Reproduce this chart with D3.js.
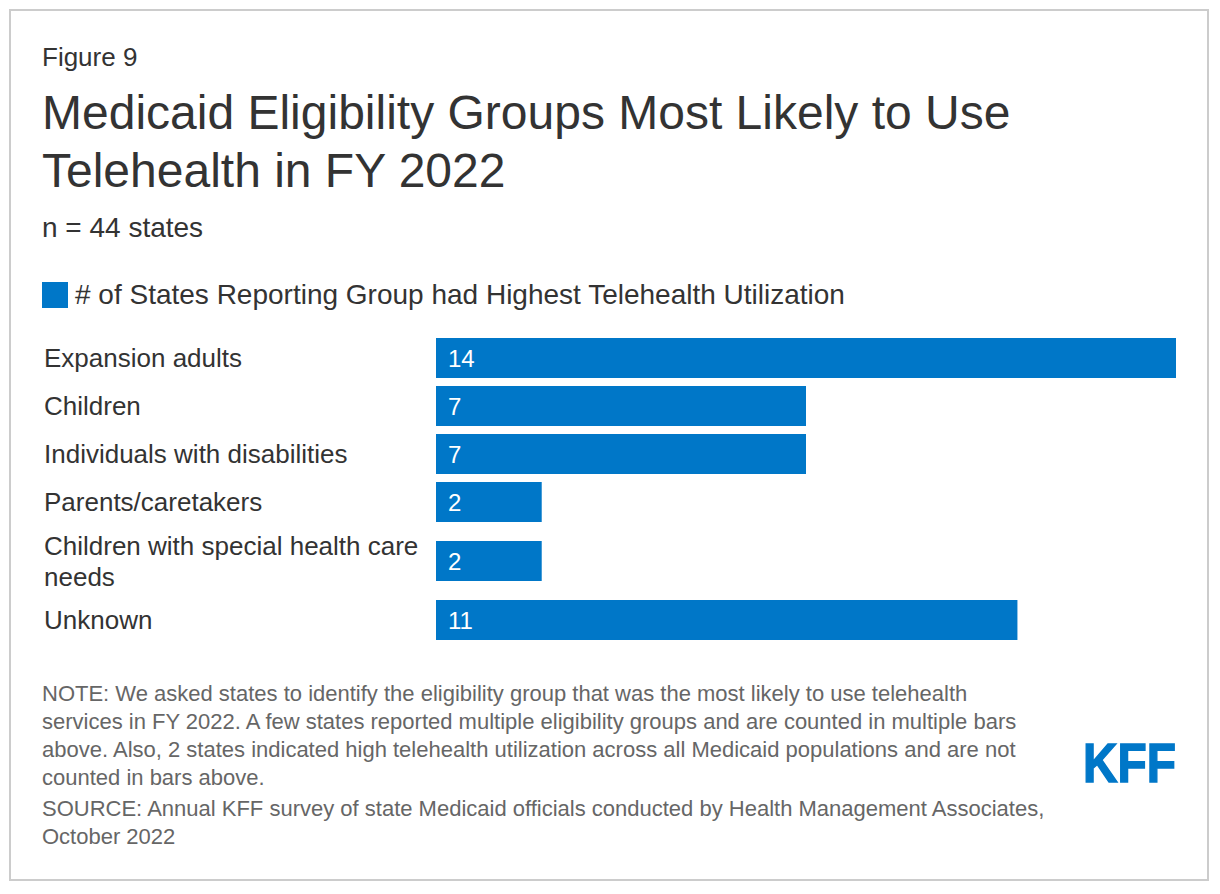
<!DOCTYPE html>
<html>
<head>
<meta charset="utf-8">
<script src="https://cdn.jsdelivr.net/npm/d3@7"></script>
<style>
  body { margin: 0; background: #fff; }
  svg text { font-family: "Liberation Sans", Arial, sans-serif; }
</style>
</head>
<body>
<div class="parentChart"></div>
<script>
// data for the chart
let categories = [
  "Expansion adults",
  "Children",
  "Individuals with disabilities",
  "Parents/caretakers",
  "Children with special health care needs",
  "Unknown",
];
let values = [14, 7, 7, 2, 2, 11];
let seriesName = "# of States Reporting Group had Highest Telehealth Utilization";

let noteLines = [
  "NOTE: We asked states to identify the eligibility group that was the most likely to use telehealth",
  "services in FY 2022. A few states reported multiple eligibility groups and are counted in multiple bars",
  "above. Also, 2 states indicated high telehealth utilization across all Medicaid populations and are not",
  "counted in bars above.",
];
let sourceLines = [
  "SOURCE: Annual KFF survey of state Medicaid officials conducted by Health Management Associates,",
  "October 2022",
];

// Exposed variables
let attrs = {
  width: 1220,
  height: 894,
  barColor: "#0077c8",
  titleColor: "#333333",
  textColor: "#333333",
  noteColor: "#666666",
  borderColor: "#cccccc",
  left: 42, // left edge of texts
  barStart: 436, // where bars begin
  barEnd: 1176, // where the largest bar ends
  barHeight: 40,
  rowPad: 8,
  lineHeight: 31,
  chartTop: 338,
  labelWidth: 385,
};

let svg = d3
  .select(".parentChart")
  .append("svg")
  .attr("width", attrs.width)
  .attr("height", attrs.height);

// frame
svg
  .append("rect")
  .attr("x", 10)
  .attr("y", 10)
  .attr("width", 1198)
  .attr("height", 870)
  .attr("fill", "#fff")
  .attr("stroke", attrs.borderColor)
  .attr("stroke-width", 2);

// headings
svg
  .append("text")
  .attr("x", attrs.left)
  .attr("y", 66)
  .attr("font-size", 26)
  .attr("fill", attrs.titleColor)
  .text("Figure 9");

let title = svg
  .append("text")
  .attr("font-size", 48)
  .attr("fill", attrs.titleColor);
title.append("tspan").attr("x", attrs.left).attr("y", 129)
  .text("Medicaid Eligibility Groups Most Likely to Use");
title.append("tspan").attr("x", attrs.left).attr("y", 187)
  .text("Telehealth in FY 2022");

svg
  .append("text")
  .attr("x", attrs.left)
  .attr("y", 237)
  .attr("font-size", 28)
  .attr("fill", attrs.titleColor)
  .text("n = 44 states");

// legend
svg
  .append("rect")
  .attr("x", attrs.left)
  .attr("y", 282)
  .attr("width", 26)
  .attr("height", 26)
  .attr("fill", attrs.barColor);
svg
  .append("text")
  .attr("x", 75)
  .attr("y", 304)
  .attr("font-size", 28)
  .attr("fill", attrs.textColor)
  .text(seriesName);

// labels first, so we know how many lines each one takes
let labelG = svg.append("g");
let labels = labelG
  .selectAll("text")
  .data(categories)
  .enter()
  .append("text")
  .attr("x", 44)
  .attr("y", 0)
  .attr("font-size", 26)
  .attr("fill", attrs.textColor)
  .text((d) => d)
  .call(wrap, attrs.labelWidth);

// row heights from label line counts
let lineCounts = [];
labels.each(function () {
  lineCounts.push(d3.select(this).selectAll("tspan").size());
});
let rowHeights = lineCounts.map(
  (n) => Math.max(attrs.barHeight, n * attrs.lineHeight) + attrs.rowPad
);
let rowCenters = [];
let acc = attrs.chartTop - attrs.rowPad / 2;
rowHeights.forEach((h) => {
  rowCenters.push(acc + h / 2);
  acc += h;
});

let x = d3
  .scaleLinear()
  .domain([0, d3.max(values)])
  .range([attrs.barStart, attrs.barEnd]);
let yCenter = d3.scaleOrdinal().domain(categories).range(rowCenters);

// position labels vertically centred on their row
labels.each(function (d, i) {
  let t = d3.select(this);
  let n = lineCounts[i];
  let firstBaseline = yCenter(d) - ((n - 1) * attrs.lineHeight) / 2 + 9;
  t.selectAll("tspan")
    .attr("y", (_, j) => firstBaseline + j * attrs.lineHeight);
});

// bars
let rows = svg
  .selectAll(".bar")
  .data(categories)
  .enter()
  .append("g")
  .attr("class", "bar");

rows
  .append("rect")
  .attr("x", x(0))
  .attr("y", (d) => yCenter(d) - attrs.barHeight / 2)
  .attr("width", (d, i) => x(values[i]) - x(0))
  .attr("height", attrs.barHeight)
  .attr("fill", attrs.barColor);

rows
  .append("text")
  .attr("x", x(0) + 12)
  .attr("y", (d) => yCenter(d) + 9)
  .attr("font-size", 24)
  .attr("fill", "#fff")
  .text((d, i) => values[i]);

// notes
let note = svg
  .append("text")
  .attr("font-size", 22)
  .attr("fill", attrs.noteColor);
note
  .selectAll("tspan")
  .data(noteLines)
  .enter()
  .append("tspan")
  .attr("x", attrs.left)
  .attr("y", (d, i) => 701 + i * 28)
  .text((d) => d);

let source = svg
  .append("text")
  .attr("font-size", 22)
  .attr("fill", attrs.noteColor);
source
  .selectAll("tspan")
  .data(sourceLines)
  .enter()
  .append("tspan")
  .attr("x", attrs.left)
  .attr("y", (d, i) => 816 + i * 28)
  .text((d) => d);

// KFF logo
svg
  .append("text")
  .attr("x", 1176)
  .attr("y", 782)
  .attr("text-anchor", "end")
  .attr("font-size", 55)
  .attr("font-weight", "bold")
  .attr("fill", attrs.barColor)
  .attr("stroke", attrs.barColor)
  .attr("stroke-width", 1.5)
  .attr("textLength", 93)
  .attr("lengthAdjust", "spacingAndGlyphs")
  .text("KFF");

//wrap text into tspans
function wrap(text, width) {
  text.each(function () {
    var text = d3.select(this),
      words = text.text().trim().split(/\s+/).reverse(),
      word,
      line = [],
      x = text.attr("x"),
      tspan = text.text(null).append("tspan").attr("x", x);

    while ((word = words.pop())) {
      line.push(word);
      tspan.text(line.join(" "));
      if (tspan.node().getComputedTextLength() > width && line.length > 1) {
        line.pop();
        tspan.text(line.join(" "));
        line = [word];
        tspan = text.append("tspan").attr("x", x).text(word);
      }
    }
  });
}
</script>
</body>
</html>
